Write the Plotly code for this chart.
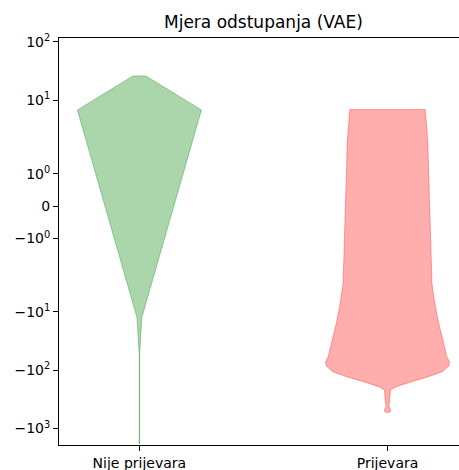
import numpy as np
import plotly.graph_objects as go

# symmetric-log scale parameters
LINTHRESH = 2.0
LINSCALE = 1.0
BASE = 10.0


def symlog(v):
    v = np.asarray(v, dtype=float)
    adj = LINSCALE / (1.0 - 1.0 / BASE)
    a = np.abs(v)
    logpart = np.sign(v) * LINTHRESH * (adj + np.log10(np.maximum(a, 1e-12) / LINTHRESH) / np.log10(BASE))
    return np.where(a <= LINTHRESH, v * adj, logpart)


categories = ["Nije prijevara", "Prijevara"]
positions = [1, 2]

# violin outlines: score values (top to bottom) and density half-widths
legit_values = [26.2, 6.84, -12.5, -31.9, -51.3, -1855.0]
legit_halfwidth = [0.026, 0.25, 0.010, 0.004, 0.001, 0.001]

fraud_values = [6.98, 2.0, -3.22, -4.25, -8.20, -15.6, -30.5, -59.0, -72.7,
                -85.1, -106.5, -129.7, -158.0, -192.5, -219.0, -325.0,
                -420.0, -480.0, -510.0, -530.0]
fraud_halfwidth = [0.152, 0.162, 0.179, 0.182, 0.193, 0.206, 0.223, 0.239,
                   0.250, 0.247, 0.221, 0.165, 0.097, 0.035, 0.012, 0.010,
                   0.006, 0.012, 0.012, 0.004]

ytick_values = [100, 10, 1, 0, -1, -10, -100, -1000]
ytick_labels = ["10<sup>2</sup>", "10<sup>1</sup>", "10<sup>0</sup>", "0",
                "\u221210<sup>0</sup>", "\u221210<sup>1</sup>",
                "\u221210<sup>2</sup>", "\u221210<sup>3</sup>"]

colors = ["rgba(0,128,0,0.33)", "rgba(255,0,0,0.32)"]

fig = go.Figure()

for pos, vals, hw, col in [
    (positions[0], legit_values, legit_halfwidth, colors[0]),
    (positions[1], fraud_values, fraud_halfwidth, colors[1]),
]:
    vals = np.asarray(vals, dtype=float)
    hw = np.asarray(hw, dtype=float)
    ys = symlog(vals)
    xs = np.concatenate([pos + hw, (pos - hw)[::-1], [pos + hw[0]]])
    yy = np.concatenate([ys, ys[::-1], [ys[0]]])
    fig.add_trace(go.Scatter(
        x=xs, y=yy, mode="lines", fill="toself", fillcolor=col,
        line=dict(color=col, width=1), hoverinfo="skip", showlegend=False,
    ))

font_family = "DejaVu Sans"

fig.update_layout(
    width=459, height=470,
    margin=dict(l=59, r=0, t=38, b=25, pad=0),
    paper_bgcolor="white", plot_bgcolor="white",
    font=dict(family=font_family, size=14, color="black"),
    showlegend=False,
)

fig.update_xaxes(
    range=[0.676, 2.288],
    tickvals=positions, ticktext=categories,
    showgrid=False, zeroline=False,
    showline=True, linecolor="black", linewidth=1, mirror=True,
    ticks="outside", ticklen=5, tickwidth=1, tickcolor="black",
    tickfont=dict(size=14),
)

fig.update_yaxes(
    range=[float(symlog(-1919.0)), float(symlog(117.0))],
    tickvals=symlog(ytick_values).tolist(), ticktext=ytick_labels,
    showgrid=False, zeroline=False,
    showline=True, linecolor="black", linewidth=1,
    ticks="outside", ticklen=5, tickwidth=1, tickcolor="black",
    tickfont=dict(size=14),
)

fig.add_annotation(
    text="Mjera odstupanja (VAE)", xref="paper", yref="paper",
    x=0.51, y=1, xanchor="center", yanchor="bottom", yshift=4,
    showarrow=False, font=dict(size=17, family=font_family, color="black"),
)

fig.write_html("out.html")
